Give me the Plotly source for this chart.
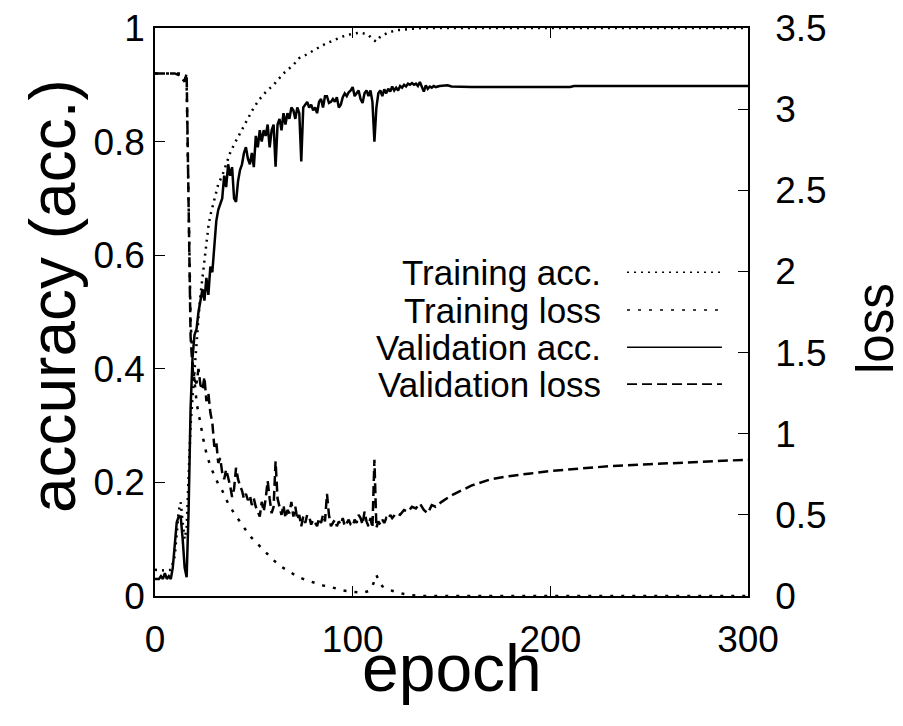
import plotly.graph_objects as go

# ---------------- data ----------------
va_epoch = [0, 2, 3, 4, 5, 6, 7, 8, 9, 10, 11, 12, 13, 14, 15, 16, 17, 18, 19, 20,
            21, 22, 23, 24, 25, 26, 27, 28, 29, 30, 31, 32, 33, 34, 35, 36, 37, 38, 39, 40,
            41, 42, 43, 44, 45, 46, 47, 48, 49, 50, 51, 52, 53, 54, 55, 56, 57, 58, 59, 60,
            61, 62, 63, 64, 65, 66, 67, 68, 69, 70, 71, 72, 73, 74, 75, 76, 77, 78, 79, 80,
            81, 82, 83, 84, 85, 86, 87, 88, 89, 90, 91, 92, 93, 94, 95, 96, 97, 98, 99, 100,
            101, 102, 103, 104, 105, 106, 107, 108, 109, 110, 111, 112, 113, 114, 115, 116,
            117, 118, 119, 120, 121, 122, 123, 124, 125, 126, 127, 128, 129, 130, 131, 132,
            133, 134, 135, 136, 137, 138, 139, 140, 141, 142, 144, 146, 148, 150, 160, 200,
            210, 212, 300]
va_value = [0.03, 0.03, 0.035, 0.03, 0.04, 0.03, 0.035, 0.03, 0.05, 0.09, 0.13, 0.14, 0.14,
            0.10, 0.05, 0.033, 0.15, 0.33, 0.42, 0.46,
            0.47, 0.50, 0.52, 0.54, 0.52, 0.56, 0.53, 0.58, 0.57, 0.62, 0.66, 0.68, 0.69, 0.70,
            0.74, 0.72, 0.76, 0.74, 0.755, 0.70,
            0.694, 0.73, 0.75, 0.76, 0.78, 0.79, 0.77, 0.76, 0.78, 0.755, 0.81, 0.79, 0.82, 0.80,
            0.82, 0.81, 0.83, 0.79, 0.82, 0.83,
            0.756, 0.83, 0.84, 0.82, 0.85, 0.83, 0.85, 0.84, 0.86, 0.855, 0.84, 0.86, 0.85, 0.765,
            0.86, 0.865, 0.87, 0.86, 0.865, 0.855,
            0.86, 0.85, 0.87, 0.875, 0.86, 0.88, 0.88, 0.868, 0.87, 0.875, 0.87, 0.878, 0.86,
            0.865, 0.878, 0.885, 0.88, 0.887, 0.89, 0.896,
            0.88, 0.885, 0.89, 0.875, 0.868, 0.885, 0.89, 0.88, 0.89, 0.87, 0.80, 0.86, 0.885,
            0.89, 0.88, 0.892,
            0.885, 0.893, 0.888, 0.897, 0.89, 0.895, 0.89, 0.898, 0.895, 0.90, 0.897, 0.902,
            0.90, 0.903, 0.90, 0.902,
            0.898, 0.905, 0.897, 0.888, 0.899, 0.893, 0.897, 0.895, 0.898, 0.896, 0.898, 0.899,
            0.899, 0.897, 0.896, 0.896,
            0.896, 0.898, 0.898]

ta_epoch = [0, 5, 8, 10, 12, 13, 14, 15, 16, 17, 18, 19, 20, 21, 22, 23, 24, 25, 26, 27,
            28, 29, 30, 32, 34, 36, 38, 40, 43, 46, 50, 53, 56, 60, 65, 70, 73, 76, 80, 85,
            90, 95, 100, 104, 106, 108, 110, 112, 114, 118, 122, 128, 135, 300]
ta_value = [0.046, 0.045, 0.046, 0.07, 0.15, 0.165, 0.13, 0.10, 0.12, 0.22, 0.30, 0.35, 0.40,
            0.45, 0.49, 0.53, 0.56, 0.60, 0.62, 0.65,
            0.67, 0.685, 0.70, 0.725, 0.74, 0.76, 0.78, 0.795, 0.815, 0.835, 0.86, 0.875, 0.887,
            0.90, 0.92, 0.935, 0.947, 0.952, 0.96, 0.97,
            0.978, 0.985, 0.99, 0.992, 0.99, 0.988, 0.98, 0.976, 0.985, 0.992, 0.996, 0.998,
            1.0, 1.0]

tl_epoch = [0, 15, 16, 17, 18, 19, 20, 21, 22, 23, 24, 26, 28, 30, 32, 34, 37, 40, 44, 48,
            52, 56, 60, 64, 68, 72, 76, 80, 85, 89, 92, 95, 100, 105, 108, 110, 112, 113, 115,
            118, 122, 126, 130, 135, 300]
tl_value = [3.22, 3.22, 3.15, 2.4, 1.7, 1.45, 1.3, 1.2, 1.12, 1.07, 0.99, 0.88, 0.80, 0.74,
            0.69, 0.65, 0.57, 0.51, 0.44, 0.37,
            0.32, 0.27, 0.22, 0.18, 0.15, 0.12, 0.10, 0.085, 0.065, 0.055, 0.045, 0.035, 0.025,
            0.02, 0.03, 0.06, 0.13, 0.10, 0.06,
            0.04, 0.025, 0.012, 0.005, 0.0, 0.0]

vl_epoch = [0, 10, 12, 14, 15, 16, 17, 18, 19, 20, 21, 22, 23, 24, 25, 26, 27, 28, 29, 30,
            31, 32, 33, 34, 35, 36, 37, 38, 39, 40, 41, 42, 43, 44, 45, 46, 47, 48, 49, 50,
            51, 52, 53, 54, 55, 56, 57, 58, 59, 60, 61, 62, 63, 64, 65, 66, 67, 68, 69, 70,
            71, 72, 73, 74, 75, 76, 77, 78, 79, 80, 81, 82, 83, 84, 85, 86, 87, 88, 89, 90,
            91, 92, 93, 94, 95, 96, 97, 98, 99, 100, 101, 102, 103, 104, 105, 106, 107, 108,
            109, 110, 111, 112, 113, 114, 115, 116, 117, 118, 119, 120, 122, 124, 126, 128,
            130, 132, 134, 136, 138, 140, 142, 145, 150, 155, 160, 170, 180, 190, 200, 215,
            230, 250, 270, 300]
vl_value = [3.22, 3.22, 3.21, 3.18, 3.17, 3.22, 2.5, 1.6, 1.4, 1.33, 1.31, 1.4, 1.3, 1.27,
            1.35, 1.2, 1.25, 1.13, 1.07, 0.92,
            0.95, 0.82, 0.85, 0.76, 0.72, 0.78, 0.73, 0.68, 0.61, 0.66, 0.79, 0.72, 0.68, 0.65,
            0.60, 0.63, 0.59, 0.62, 0.56, 0.60,
            0.55, 0.52, 0.49, 0.58, 0.52, 0.60, 0.71, 0.60, 0.51, 0.55, 0.83, 0.60, 0.55, 0.50,
            0.56, 0.48, 0.53, 0.51, 0.58, 0.49,
            0.55, 0.47, 0.50, 0.43, 0.49, 0.45, 0.50, 0.49, 0.44, 0.47, 0.45, 0.43, 0.48, 0.45,
            0.50, 0.46, 0.63, 0.50, 0.43, 0.45,
            0.47, 0.43, 0.46, 0.44, 0.48, 0.43, 0.45, 0.47, 0.44, 0.43, 0.47, 0.45, 0.50, 0.48,
            0.44, 0.52, 0.46, 0.43,
            0.48, 0.42, 0.84, 0.42, 0.46, 0.44, 0.47, 0.45, 0.48, 0.47, 0.50, 0.48, 0.51, 0.50,
            0.53, 0.52,
            0.55, 0.54, 0.57, 0.53, 0.51, 0.56, 0.55, 0.58, 0.62, 0.65, 0.68, 0.72, 0.74, 0.755,
            0.77, 0.785,
            0.80, 0.812, 0.825, 0.84]

legend_labels = ["Training acc.", "Training loss", "Validation acc.", "Validation loss"]
x_ticks = [0, 100, 200, 300]
acc_ticks = [0, 0.2, 0.4, 0.6, 0.8, 1]
loss_ticks = [0, 0.5, 1, 1.5, 2, 2.5, 3, 3.5]

# ---------------- styling ----------------
FONT = "Liberation Sans"
LW = 2.5
styles = {
    "Training acc.": dict(dash="2px,5px", width=LW),
    "Training loss": dict(dash="3px,8px", width=LW),
    "Validation acc.": dict(dash="solid", width=LW),
    "Validation loss": dict(dash="10px,5px", width=LW),
}

fig = go.Figure()
fig.add_trace(go.Scatter(x=ta_epoch, y=ta_value, mode="lines", yaxis="y",
                         line=dict(color="black", **styles["Training acc."]), showlegend=False))
fig.add_trace(go.Scatter(x=tl_epoch, y=tl_value, mode="lines", yaxis="y2",
                         line=dict(color="black", **styles["Training loss"]), showlegend=False))
fig.add_trace(go.Scatter(x=va_epoch, y=va_value, mode="lines", yaxis="y",
                         line=dict(color="black", **styles["Validation acc."]), showlegend=False))
fig.add_trace(go.Scatter(x=vl_epoch, y=vl_value, mode="lines", yaxis="y2",
                         line=dict(color="black", **styles["Validation loss"]), showlegend=False))

# key (gnuplot style: right-justified text, sample to the right)
row_y = [0.570, 0.5035, 0.438, 0.373]
annotations = []
shapes = []
for lab, yy in zip(legend_labels, row_y):
    annotations.append(dict(text=lab, xref="paper", yref="paper", x=0.756, y=yy,
                            xanchor="right", yanchor="middle", showarrow=False,
                            font=dict(family=FONT, size=35, color="black")))
    st = styles[lab]
    shapes.append(dict(type="line", xref="paper", yref="paper", x0=0.796, x1=0.956,
                       y0=yy, y1=yy, line=dict(color="black", width=1.6, dash=st["dash"])))

annotations += [
    dict(text="epoch", xref="paper", yref="paper", x=0.5, y=0, yshift=-72,
         xanchor="center", yanchor="middle", showarrow=False,
         font=dict(family=FONT, size=66, color="black")),
    dict(text="accuracy (acc.)", xref="paper", yref="paper", x=0, y=0.528, xshift=-102,
         xanchor="center", yanchor="middle", textangle=-90, showarrow=False,
         font=dict(family=FONT, size=64, color="black")),
    dict(text="loss", xref="paper", yref="paper", x=1, y=0.47, xshift=127,
         xanchor="center", yanchor="middle", textangle=-90, showarrow=False,
         font=dict(family=FONT, size=51, color="black")),
]

axis_common = dict(showgrid=False, zeroline=False, showline=True, linecolor="black",
                   linewidth=1.5, ticks="inside", ticklen=10, tickcolor="black",
                   tickwidth=1, automargin=False, ticklabeloverflow="allow",
                   tickfont=dict(family=FONT, size=37, color="black"))

# the page body adds an 8px offset; size the figure so the plot lands where the reference has it
fig.update_layout(
    width=895, height=710,
    margin=dict(l=147, r=155, t=20, b=122),
    paper_bgcolor="white", plot_bgcolor="white",
    xaxis=dict(range=[0, 300], tickvals=x_ticks, mirror="ticks",
               ticklabelstandoff=10, **axis_common),
    yaxis=dict(range=[0, 1], tickvals=acc_ticks, ticklabelstandoff=1, **axis_common),
    yaxis2=dict(range=[0, 3.5], tickvals=loss_ticks, overlaying="y", side="right",
                ticklabelstandoff=18, **axis_common),
    annotations=annotations,
    shapes=shapes,
)

fig.write_html("out.html")
